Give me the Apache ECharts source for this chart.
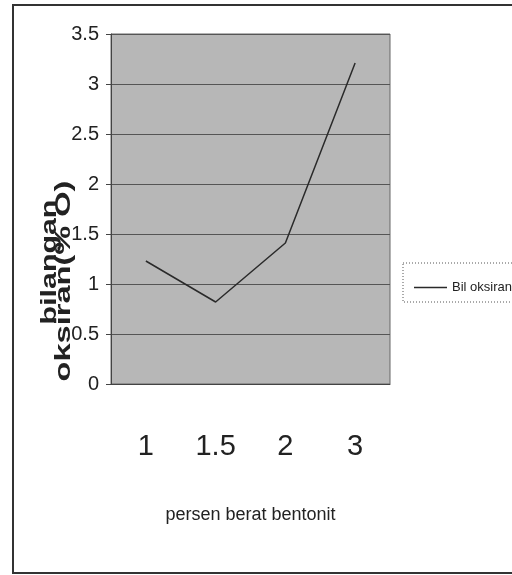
<!DOCTYPE html>
<html>
<head>
<meta charset="utf-8">
<script src="https://cdn.jsdelivr.net/npm/echarts@6/dist/echarts.min.js"></script>
<style>
  html, body { margin: 0; padding: 0; background: #ffffff; }
  #chart { width: 512px; height: 575px; }
</style>
</head>
<body>
<div id="chart"></div>
<script>
// data
var categories = ['1', '1.5', '2', '3'];
var bilOksiran = [1.23, 0.82, 1.41, 3.21];
var yTicks = { min: 0, max: 3.5, interval: 0.5 };

var font = "'Liberation Sans', Arial, sans-serif";

var chart = echarts.init(document.getElementById('chart'));
chart.setOption({
  backgroundColor: '#ffffff',
  animation: false,
  grid: {
    left: 111,
    right: 122,
    top: 34,
    bottom: 191,
    show: true,
    backgroundColor: '#b7b7b7',
    borderColor: '#666',
    borderWidth: 1
  },
  legend: {
    left: 409,
    top: 276,
    icon: 'rect',
    itemWidth: 33,
    itemHeight: 1.5,
    textStyle: { fontFamily: font, fontSize: 13, color: '#222' },
    data: ['Bil oksiran']
  },
  xAxis: {
    type: 'category',
    data: categories,
    boundaryGap: true,
    axisLine: { lineStyle: { color: '#444', width: 1 } },
    axisTick: { length: 11, lineStyle: { color: '#444' } },
    axisLabel: { fontFamily: font, fontSize: 29, color: '#222', margin: 48 },
    name: 'persen berat bentonit',
    nameLocation: 'middle',
    nameGap: 122,
    nameTextStyle: { fontFamily: font, fontSize: 18, color: '#222' }
  },
  yAxis: {
    type: 'value',
    min: yTicks.min,
    max: yTicks.max,
    interval: yTicks.interval,
    axisLine: { show: true, lineStyle: { color: '#444' } },
    axisTick: { show: true, length: 5, lineStyle: { color: '#444' } },
    axisLabel: { fontFamily: font, fontSize: 20, color: '#222', margin: 12 },
    splitLine: { lineStyle: { color: '#555', width: 1 } }
  },
  series: [
    {
      name: 'Bil oksiran',
      type: 'line',
      data: bilOksiran,
      symbol: 'none',
      lineStyle: { color: '#2a2a2a', width: 1.5 },
      itemStyle: { color: '#2a2a2a' }
    }
  ],
  graphic: [
    {
      type: 'rect',
      shape: { x: 13, y: 5, width: 520, height: 568 },
      style: { fill: 'none', stroke: '#333', lineWidth: 2 },
      silent: true
    },
    {
      type: 'rect',
      shape: { x: 403, y: 263, width: 130, height: 39 },
      style: { fill: '#ffffff', stroke: '#555', lineWidth: 1, lineDash: [1, 2] },
      z: -1,
      silent: true
    },
    {
      type: 'text',
      x: 50,
      y: 262,
      rotation: Math.PI / 2,
      scaleX: 1.38,
      style: {
        text: 'bilangan',
        fontFamily: font,
        fontWeight: 'bold',
        fontSize: 22,
        fill: '#222',
        align: 'center',
        verticalAlign: 'middle'
      }
    },
    {
      type: 'text',
      x: 64,
      y: 281,
      rotation: Math.PI / 2,
      scaleX: 1.48,
      style: {
        text: 'oksiran(% O)',
        fontFamily: font,
        fontWeight: 'bold',
        fontSize: 22,
        fill: '#222',
        align: 'center',
        verticalAlign: 'middle'
      }
    }
  ]
});
</script>
</body>
</html>
